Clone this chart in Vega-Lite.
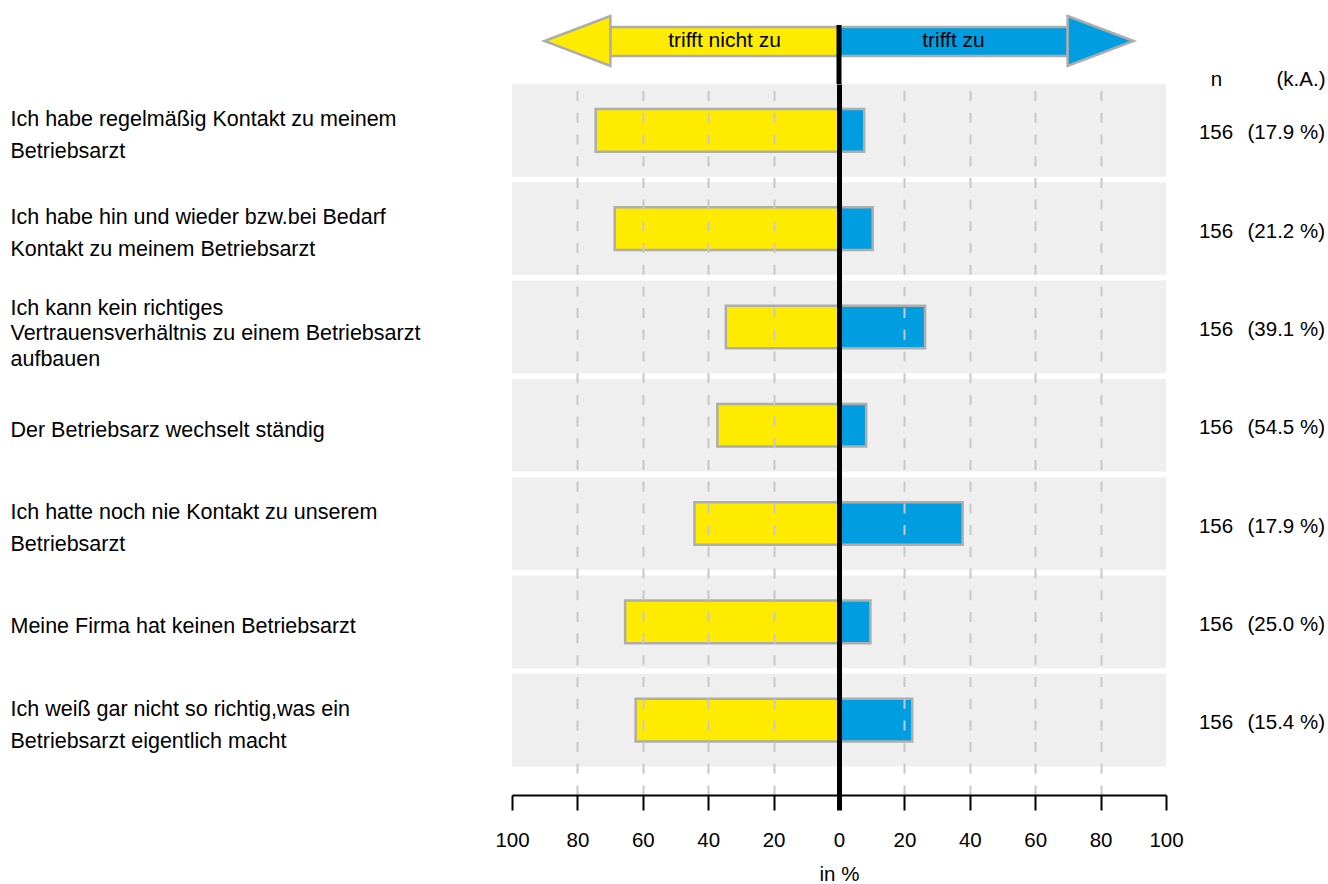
{
  "$schema": "https://vega.github.io/schema/vega-lite/v6.json",
  "padding": {"left": 10, "top": 10, "right": 3, "bottom": 2},
  "config": {"font": "Liberation Sans", "view": {"stroke": null}},
  "datasets": {
    "items": [
      {"statement": "Ich habe regelmäßig Kontakt zu meinem|Betriebsarzt", "trifft_nicht_zu": -74.4, "trifft_zu": 7.7, "n": "156", "ka": "(17.9 %)"},
      {"statement": "Ich habe hin und wieder bzw.bei Bedarf|Kontakt zu meinem Betriebsarzt", "trifft_nicht_zu": -68.6, "trifft_zu": 10.3, "n": "156", "ka": "(21.2 %)"},
      {"statement": "Ich kann kein richtiges|Vertrauensverhältnis zu einem Betriebsarzt|aufbauen", "trifft_nicht_zu": -34.6, "trifft_zu": 26.3, "n": "156", "ka": "(39.1 %)"},
      {"statement": "Der Betriebsarz wechselt ständig", "trifft_nicht_zu": -37.2, "trifft_zu": 8.3, "n": "156", "ka": "(54.5 %)"},
      {"statement": "Ich hatte noch nie Kontakt zu unserem|Betriebsarzt", "trifft_nicht_zu": -44.2, "trifft_zu": 37.8, "n": "156", "ka": "(17.9 %)"},
      {"statement": "Meine Firma hat keinen Betriebsarzt", "trifft_nicht_zu": -65.4, "trifft_zu": 9.6, "n": "156", "ka": "(25.0 %)"},
      {"statement": "Ich weiß gar nicht so richtig,was ein|Betriebsarzt eigentlich macht", "trifft_nicht_zu": -62.2, "trifft_zu": 22.4, "n": "156", "ka": "(15.4 %)"}
    ]
  },
  "bounds": "flush",
  "spacing": 0,
  "vconcat": [
    {
      "width": 654,
      "height": 68,
      "data": {"values": [{}]},
      "layer": [
        {
          "mark": {"type": "bar", "fill": "#FFEB00", "stroke": "#ADADAD", "strokeWidth": 2.5},
          "encoding": {
            "x": {"datum": -70, "type": "quantitative", "scale": {"domain": [-100, 100], "nice": false, "zero": false}, "axis": null},
            "x2": {"datum": 0},
            "y": {"datum": 28, "type": "quantitative", "scale": {"domain": [0, 68], "nice": false, "zero": false}, "axis": null},
            "y2": {"datum": 57}
          }
        },
        {
          "mark": {"type": "bar", "fill": "#009EE0", "stroke": "#ADADAD", "strokeWidth": 2.5},
          "encoding": {
            "x": {"datum": 0, "type": "quantitative"},
            "x2": {"datum": 70},
            "y": {"datum": 28, "type": "quantitative"},
            "y2": {"datum": 57}
          }
        },
        {
          "mark": {"type": "point", "shape": "M1,-0.758L-1,0L1,0.758Z", "size": 4356, "filled": true, "fill": "#FFEB00", "stroke": "#ADADAD", "strokeWidth": 2.5, "opacity": 1},
          "encoding": {"x": {"datum": -80, "type": "quantitative"}, "y": {"datum": 43, "type": "quantitative"}}
        },
        {
          "mark": {"type": "point", "shape": "M-1,-0.758L1,0L-1,0.758Z", "size": 4356, "filled": true, "fill": "#009EE0", "stroke": "#ADADAD", "strokeWidth": 2.5, "opacity": 1},
          "encoding": {"x": {"datum": 80, "type": "quantitative"}, "y": {"datum": 43, "type": "quantitative"}}
        },
        {
          "mark": {"type": "text", "text": "trifft nicht zu", "fontSize": 21, "baseline": "middle", "align": "center", "color": "black"},
          "encoding": {"x": {"datum": -35, "type": "quantitative"}, "y": {"datum": 43, "type": "quantitative"}}
        },
        {
          "mark": {"type": "text", "text": "trifft zu", "fontSize": 21, "baseline": "middle", "align": "center", "color": "black"},
          "encoding": {"x": {"datum": 35, "type": "quantitative"}, "y": {"datum": 43, "type": "quantitative"}}
        },
        {
          "mark": {"type": "rule", "color": "black", "strokeWidth": 5},
          "encoding": {"x": {"datum": 0, "type": "quantitative"}, "y": {"datum": 0, "type": "quantitative"}, "y2": {"datum": 59}}
        }
      ]
    },
    {
      "bounds": "flush",
      "spacing": 50,
      "hconcat": [
        {
          "width": 654,
          "height": 711,
          "data": {"name": "items"},
          "encoding": {
            "y": {
              "field": "statement", "type": "nominal", "sort": null,
              "scale": {"type": "band", "paddingInner": 0.057, "paddingOuter": 0.145, "align": 0},
              "axis": {
                "title": null, "ticks": false, "tickSize": 0, "domain": false, "grid": false,
                "labelAlign": "left", "labelBaseline": "middle", "labelPadding": 502,
                "labelFontSize": 21.5, "labelColor": "black", "labelLimit": 800,
                "labelOffset": {"condition": [{"test": "length(split(datum.value, '|')) === 3", "value": -18.2}, {"test": "length(split(datum.value, '|')) === 2", "value": -10.2}], "value": 5.5},
                "labelExpr": "split(datum.value, '|')",
                "labelLineHeight": {"expr": "length(split(datum.value, '|')) === 3 ? 25.5 : 31.6"}
              }
            }
          },
          "layer": [
            {
              "mark": {"type": "bar", "color": "#EFEFEF"},
              "encoding": {
                "x": {"datum": -100, "type": "quantitative", "scale": {"domain": [-100, 100], "nice": false, "zero": false}},
                "x2": {"datum": 100}
              }
            },
            {
              "mark": {"type": "bar", "fill": "#FFEB00", "stroke": "#ADADAD", "strokeWidth": 2.5, "height": {"band": 0.46}},
              "encoding": {
                "x": {
                  "field": "trifft_nicht_zu", "type": "quantitative",
                  "axis": {
                    "values": [-100, -80, -60, -40, -20, 0, 20, 40, 60, 80, 100],
                    "labelExpr": "abs(datum.value)",
                    "title": "in %", "titleFontSize": 20.5, "titleFontWeight": "normal", "titleColor": "black", "titlePadding": 14,
                    "labelFontSize": 20.5, "labelColor": "black", "labelPadding": 20, "labelFlush": false, "labelOverlap": false,
                    "tickSize": 15, "tickColor": "black",
                    "tickWidth": {"condition": {"test": "datum.value === 0", "value": 5}, "value": 2},
                    "domainColor": "black", "domainWidth": 2,
                    "grid": true,
                    "gridColor": {"condition": {"test": "datum.value === 0", "value": "black"}, "value": "#C8C8C8"},
                    "gridWidth": {"condition": {"test": "datum.value === 0", "value": 5}, "value": 2},
                    "gridDash": {"condition": {"test": "datum.value === 0", "value": []}, "value": [10, 11.7]},
                    "gridOpacity": {"condition": {"test": "abs(datum.value) === 100", "value": 0}, "value": 1},
                    "zindex": 1
                  }
                }
              }
            },
            {
              "mark": {"type": "bar", "fill": "#009EE0", "stroke": "#ADADAD", "strokeWidth": 2.5, "height": {"band": 0.46}},
              "encoding": {
                "x": {"field": "trifft_zu", "type": "quantitative"}
              }
            }
          ]
        },
        {
          "width": 109,
          "height": 711,
          "data": {"name": "items"},
          "encoding": {
            "y": {
              "field": "statement", "type": "nominal", "sort": null, "bandPosition": 0.5,
              "scale": {"type": "band", "paddingInner": 0.057, "paddingOuter": 0.145, "align": 0},
              "axis": null
            }
          },
          "layer": [
            {
              "mark": {"type": "text", "fontSize": 20.5, "align": "center", "baseline": "middle", "dy": 3, "color": "black"},
              "encoding": {
                "x": {
                  "datum": "n", "type": "nominal",
                  "scale": {"type": "point", "domain": ["n", "(k.A.)"], "padding": 0},
                  "axis": {
                    "orient": "top", "title": null, "ticks": false, "tickSize": 0, "domain": false, "grid": false,
                    "labelAngle": 0, "labelFontSize": 20.5, "labelColor": "black",
                    "labelBaseline": "alphabetic", "labelPadding": -1,
                    "labelAlign": {"condition": {"test": "datum.value === '(k.A.)'", "value": "right"}, "value": "center"},
                    "labelOverlap": false, "labelFlush": false
                  }
                },
                "text": {"field": "n", "type": "nominal"}
              }
            },
            {
              "mark": {"type": "text", "fontSize": 20.5, "align": "right", "baseline": "middle", "dy": 3, "color": "black"},
              "encoding": {
                "x": {"datum": "(k.A.)", "type": "nominal"},
                "text": {"field": "ka", "type": "nominal"}
              }
            }
          ]
        }
      ]
    }
  ]
}
